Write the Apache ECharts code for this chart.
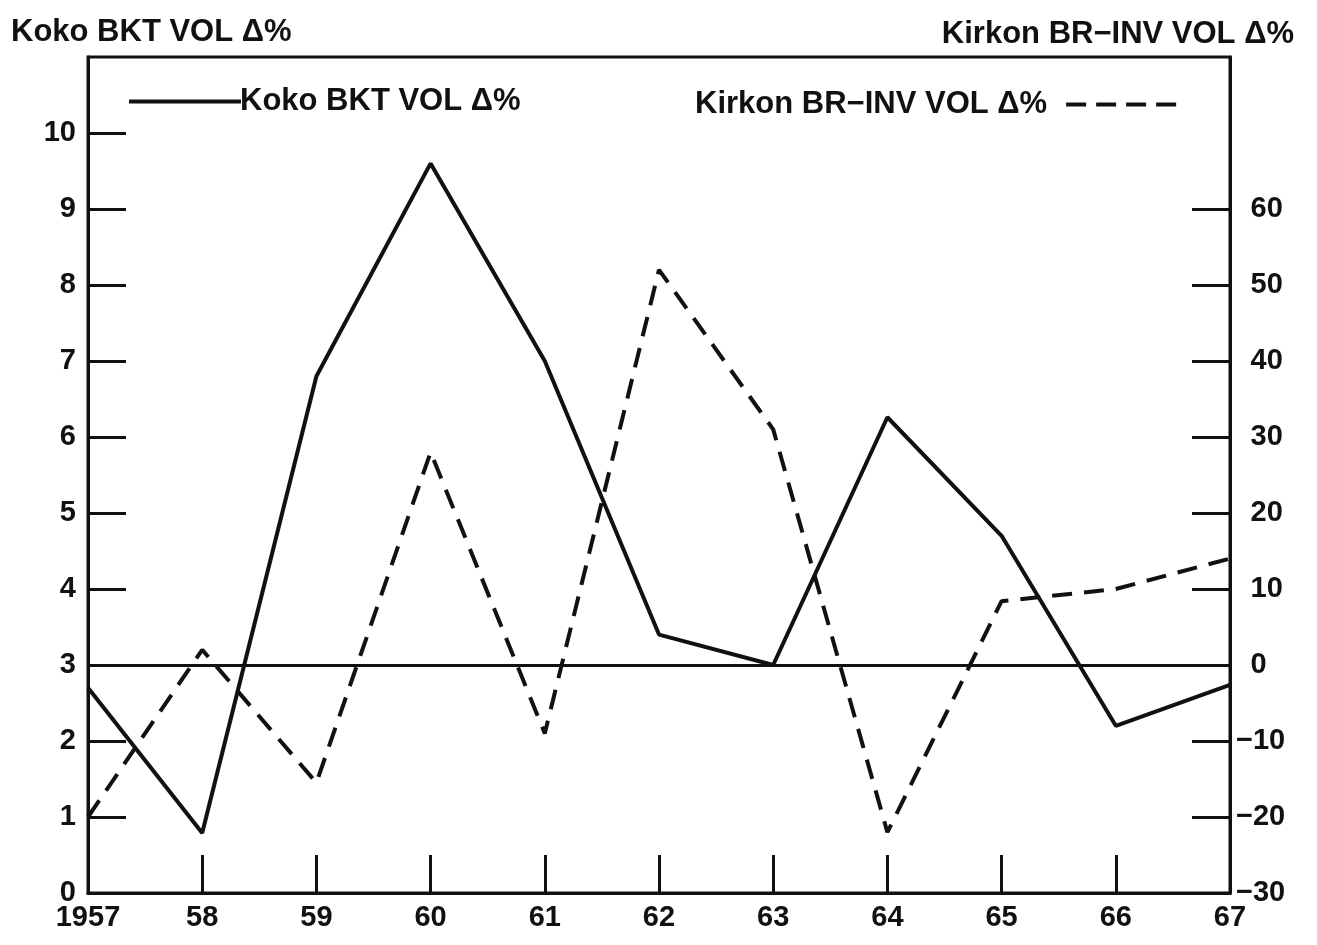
<!DOCTYPE html>
<html>
<head>
<meta charset="utf-8">
<script src="https://cdn.jsdelivr.net/npm/echarts@6/dist/echarts.min.js"></script>
<style>
  html, body { margin: 0; padding: 0; background: #fff; }
  #chart { width: 1317px; height: 945px; }
</style>
</head>
<body>
<div id="chart"></div>
<script>
// years on the x axis
var years = ['1957', '58', '59', '60', '61', '62', '63', '64', '65', '66', '67'];
// solid line, left axis
var bktVol = [2.7, 0.79, 6.8, 9.6, 7.0, 3.4, 3.0, 6.26, 4.7, 2.2, 2.74];
// dashed line, right axis
var kirkonVol = [-20, 2, -15.5, 28, -9, 52, 31, -22, 8.4, 10, 14];
var leftTicks = [0, 1, 2, 3, 4, 5, 6, 7, 8, 9, 10];
var rightTicks = [-30, -20, -10, 0, 10, 20, 30, 40, 50, 60];

var FONT = '"Liberation Sans", Arial, sans-serif';
var ink = '#111';
var FS = 29;   // axis labels
var TS = 31;   // titles + legend

var chart = echarts.init(document.getElementById('chart'));
var option = {
  backgroundColor: '#fff',
  animation: false,
  textStyle: { fontFamily: FONT, color: ink },
  title: [
    { text: 'Koko BKT VOL Δ%', left: 6, top: 12,
      textStyle: { fontFamily: FONT, fontSize: TS, fontWeight: 'bold', color: ink } },
    { text: 'Kirkon BR−INV VOL Δ%', right: 18, top: 14,
      textStyle: { fontFamily: FONT, fontSize: TS, fontWeight: 'bold', color: ink } }
  ],
  legend: [
    { data: ['Koko BKT VOL Δ%'], left: 122, top: 81, align: 'left',
      itemWidth: 112, itemHeight: 4, itemStyle: { opacity: 0 }, lineStyle: { width: 4 },
      textStyle: { fontFamily: FONT, fontSize: TS, fontWeight: 'bold', color: ink, padding: [0, 0, 0, -6] } },
    { data: ['Kirkon BR−INV VOL Δ%'], left: 690, top: 84, align: 'right',
      itemWidth: 112, itemHeight: 4, itemStyle: { opacity: 0 }, lineStyle: { width: 4, type: [20, 10] },
      textStyle: { fontFamily: FONT, fontSize: TS, fontWeight: 'bold', color: ink, padding: [0, 14, 0, 0] } }
  ],
  grid: { left: 88, right: 87, top: 57, bottom: 52, show: true, borderColor: ink, borderWidth: 3 },
  xAxis: {
    type: 'category', data: years, boundaryGap: false,
    axisLine: { lineStyle: { color: ink, width: 3 } },
    axisTick: { inside: true, length: 38, lineStyle: { color: ink, width: 3 } },
    axisLabel: { fontSize: FS, fontWeight: 'bold', color: ink, margin: 10 },
    splitLine: { show: false }
  },
  yAxis: [
    {
      type: 'value', min: 0, max: 11, interval: 1,
      axisLine: { show: true, lineStyle: { color: ink, width: 3 } },
      axisTick: { show: true, inside: true, length: 38, customValues: leftTicks,
        lineStyle: { color: ink, width: 3 } },
      axisLabel: { fontSize: FS, fontWeight: 'bold', color: ink, margin: 12, customValues: leftTicks },
      splitLine: { show: false }
    },
    {
      type: 'value', min: -30, max: 80, interval: 10, position: 'right',
      axisLine: { show: true, lineStyle: { color: ink, width: 3 } },
      axisTick: { show: true, inside: true, length: 38, customValues: rightTicks,
        lineStyle: { color: ink, width: 3 } },
      axisLabel: { fontSize: FS, fontWeight: 'bold', color: ink, margin: 6, customValues: rightTicks,
        formatter: function (v) { return v < 0 ? '−' + Math.abs(v) : '\u2002' + v; } },
      splitLine: { show: false }
    }
  ],
  series: [
    {
      name: 'Koko BKT VOL Δ%', type: 'line', yAxisIndex: 0, data: bktVol,
      symbol: 'none', lineStyle: { color: ink, width: 4, type: 'solid' },
      itemStyle: { color: ink },
      markLine: {
        silent: true, symbol: 'none', label: { show: false },
        lineStyle: { color: ink, width: 3, type: 'solid' },
        data: [{ yAxis: 3 }]
      }
    },
    {
      name: 'Kirkon BR−INV VOL Δ%', type: 'line', yAxisIndex: 1, data: kirkonVol,
      symbol: 'none', lineStyle: { color: ink, width: 4, type: [20, 12] },
      itemStyle: { color: ink }
    }
  ]
};
chart.setOption(option);
</script>
</body>
</html>
